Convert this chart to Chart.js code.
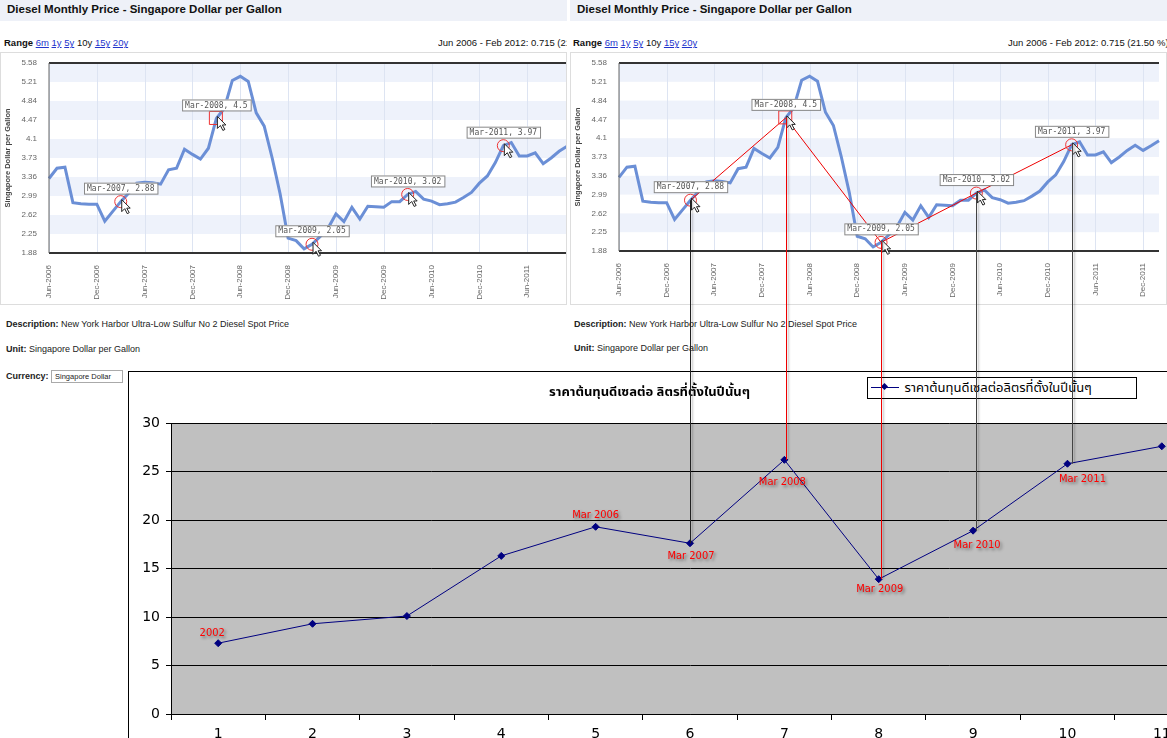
<!DOCTYPE html>
<html><head><meta charset="utf-8">
<script src="https://cdn.jsdelivr.net/npm/chart.js@4"></script>
<style>
body{margin:0;width:1167px;height:738px;overflow:hidden;background:#fff;font-family:"Liberation Sans",Arial,sans-serif;position:relative}
.abs{position:absolute}
.tbar{position:absolute;top:0;height:21px;background:#eef1f8;font-weight:bold;font-size:11.5px;line-height:18px;padding-left:7px;box-sizing:border-box;color:#111}
.rng{position:absolute;top:37px;font-size:9.5px;color:#111;white-space:nowrap}
.rng a{color:#2233cc;text-decoration:underline}
.info{position:absolute;font-size:9px;color:#222;white-space:nowrap}
</style></head><body>
<div class="tbar" style="left:0;width:567px">Diesel Monthly Price - Singapore Dollar per Gallon</div>
<div class="tbar" style="left:570px;width:597px">Diesel Monthly Price - Singapore Dollar per Gallon</div>
<div class="rng" style="left:4px"><b>Range</b> <a>6m</a> <a>1y</a> <a>5y</a> 10y <a>15y</a> <a>20y</a></div>
<div class="rng" style="left:438px;width:129px;overflow:hidden">Jun 2006 - Feb 2012: 0.715 (21.50 %)</div>
<div class="rng" style="left:573px"><b>Range</b> <a>6m</a> <a>1y</a> <a>5y</a> 10y <a>15y</a> <a>20y</a></div>
<div class="rng" style="left:1008px">Jun 2006 - Feb 2012: 0.715 (21.50 %)</div>
<div class="abs" style="left:0;top:52px;width:567px;height:253px;overflow:hidden;border:1px solid #ddd;box-sizing:border-box">
  <div style="position:absolute;left:0;top:0;width:597px;height:253px"><canvas id="p1"></canvas></div>
</div>
<div class="abs" style="left:570px;top:52px;width:597px;height:253px;border:1px solid #ddd;box-sizing:border-box"><canvas id="p2"></canvas></div>
<div class="info" style="left:6px;top:319px"><b>Description:</b> New York Harbor Ultra-Low Sulfur No 2 Diesel Spot Price</div>
<div class="info" style="left:6px;top:344px"><b>Unit:</b> Singapore Dollar per Gallon</div>
<div class="info" style="left:6px;top:370px"><b>Currency:</b> <span style="border:1px solid #aaa;font-size:7.5px;padding:1px 3px;display:inline-block;width:64px">Singapore Dollar</span></div>
<div class="info" style="left:574px;top:319px"><b>Description:</b> New York Harbor Ultra-Low Sulfur No 2 Diesel Spot Price</div>
<div class="info" style="left:574px;top:343px"><b>Unit:</b> Singapore Dollar per Gallon</div>
<div class="abs" style="left:128px;top:371px;width:1039px;height:367px;border-top:1px solid #000;border-left:1px solid #000;overflow:hidden">
  <div style="position:absolute;left:0;top:0;width:1090px;height:390px"><canvas id="b"></canvas></div>
  <div class="abs" style="left:420px;top:10px;font-family:'Noto Sans Thai','Noto Sans','DejaVu Sans',Tahoma,sans-serif;font-size:13px;font-weight:bold;color:#000">ราคาต้นทุนดีเซลต่อ ลิตรที่ตั้งในปีนั้นๆ</div>
  <div class="abs" style="left:738px;top:5px;width:268px;height:20px;border:1px solid #000;background:#fff;font-family:'Noto Sans Thai','Noto Sans','DejaVu Sans',Tahoma,sans-serif;font-size:13px;line-height:20px;white-space:nowrap">
    <span style="display:inline-block;position:relative;width:30px;height:10px;margin-left:3px"><span style="position:absolute;left:0;top:5px;width:28px;height:1px;background:#000080"></span><span style="position:absolute;left:11px;top:2px;width:5px;height:5px;background:#000080;transform:rotate(45deg)"></span></span> ราคาต้นทุนดีเซลต่อลิตรที่ตั้งในปีนั้นๆ</div>
</div>
<canvas id="ov" class="abs" width="1167" height="738" style="left:0;top:0;pointer-events:none"></canvas>
<script>
const months=[];
const mn=['Jan','Feb','Mar','Apr','May','Jun','Jul','Aug','Sep','Oct','Nov','Dec'];
for(let i=0;i<69;i++){const m=(5+i)%12, y=2006+Math.floor((5+i)/12);months.push(mn[m]+'-'+y);}
const priceSGD=[3.33,3.53,3.55,2.86,2.84,2.83,2.83,2.50,2.69,2.88,3.05,3.24,3.26,3.25,3.22,3.50,3.53,3.90,3.80,3.71,3.92,4.50,4.70,5.24,5.32,5.22,4.61,4.35,3.73,3.03,2.17,2.12,1.96,2.05,2.20,2.36,2.64,2.49,2.77,2.54,2.79,2.78,2.77,2.88,2.88,3.02,3.08,2.93,2.89,2.82,2.84,2.87,2.96,3.06,3.24,3.38,3.64,3.97,4.03,3.77,3.77,3.83,3.62,3.73,3.86,3.96,3.86,3.95,4.05];
const yTicksTop=[1.88,2.25,2.62,2.99,3.36,3.73,4.1,4.47,4.84,5.21,5.58];
const callouts=[{i:9,t:'Mar-2007, 2.88'},{i:21,t:'Mar-2008, 4.5'},{i:33,t:'Mar-2009, 2.05'},{i:45,t:'Mar-2010, 3.02'},{i:57,t:'Mar-2011, 3.97'}];
const years=['1','2','3','4','5','6','7','8','9','10','11'];
const costPerLitre=[7.3,9.3,10.1,16.3,19.3,17.6,26.2,13.9,18.9,25.8,27.6];
const pointLabels=['2002','','','','Mar 2006','Mar 2007','Mar 2008','Mar 2009','Mar 2010','Mar 2011',''];
const labelOffsets=[[-6,-10],0,0,0,[0,-12],[1,13],[-2,22],[1,10],[4,14],[15,15],0];

function arrow(ctx,x,y){ctx.save();ctx.beginPath();ctx.moveTo(x,y);ctx.lineTo(x,y+12);ctx.lineTo(x+3,y+9);ctx.lineTo(x+5.5,y+14);ctx.lineTo(x+7.5,y+13);ctx.lineTo(x+5,y+8.5);ctx.lineTo(x+8.5,y+8.5);ctx.closePath();ctx.fillStyle='#fff';ctx.fill();ctx.strokeStyle='#222';ctx.lineWidth=1;ctx.stroke();ctx.restore();}

function isHalf(l){return !!l&&(l.startsWith('Jun')||l.startsWith('Dec'));}
function panelPlugin(connect){return {id:'pp',
 beforeDraw(c){const {ctx,chartArea:a,scales:{x,y}}=c;ctx.save();
  for(let k=0;k<yTicksTop.length-1;k++){if(k%2==1){const t=y.getPixelForValue(yTicksTop[k+1]),b=y.getPixelForValue(yTicksTop[k]);ctx.fillStyle='#eef2fb';ctx.fillRect(a.left,t,a.right-a.left,b-t);}}
  ctx.strokeStyle='#dde4f2';ctx.lineWidth=1;ctx.beginPath();
  months.forEach((l,i)=>{if(isHalf(l)){const px=Math.round(x.getPixelForValue(i))+.5;ctx.moveTo(px,a.top);ctx.lineTo(px,a.bottom);}});ctx.stroke();
  ctx.restore();},
 afterDraw(c){const {ctx,chartArea:a,scales:{x,y}}=c;ctx.save();
  ctx.strokeStyle='#333';ctx.lineWidth=2;ctx.beginPath();ctx.moveTo(a.left,a.top);ctx.lineTo(a.right,a.top);ctx.moveTo(a.left,a.bottom);ctx.lineTo(a.right,a.bottom);ctx.stroke();
  ctx.strokeStyle='#666';ctx.lineWidth=1;ctx.beginPath();ctx.moveTo(a.left,a.top);ctx.lineTo(a.left,a.bottom);ctx.stroke();
  if(connect){ctx.strokeStyle='#e00';ctx.lineWidth=1;ctx.beginPath();callouts.forEach((o,j)=>{const px=x.getPixelForValue(o.i),py=y.getPixelForValue(priceSGD[o.i]);j?ctx.lineTo(px,py):ctx.moveTo(px,py);});ctx.stroke();}
  callouts.forEach((o,j)=>{const px=x.getPixelForValue(o.i),py=y.getPixelForValue(priceSGD[o.i]);
   ctx.strokeStyle='#e33';ctx.lineWidth=1;ctx.beginPath();if(j==1)ctx.rect(px-7,py-7,13,13);else ctx.arc(px,py,6,0,Math.PI*2);ctx.stroke();
   ctx.font='8px "DejaVu Sans Mono",monospace';const w=ctx.measureText(o.t).width+6;
   ctx.fillStyle='#fff';ctx.fillRect(px-w/2,py-19,w,11);ctx.strokeStyle='#888';ctx.strokeRect(px-w/2+.5,py-18.5,w,11);
   ctx.fillStyle='#555';ctx.textBaseline='middle';ctx.textAlign='center';ctx.fillText(o.t,px,py-13);
   arrow(ctx,px+1,py-2);});
  ctx.restore();}};}

function makePanel(id,connect){return new Chart(document.getElementById(id),{type:'line',
 data:{labels:months,datasets:[{data:priceSGD,borderColor:'#6b8fd6',borderWidth:3,pointRadius:0,tension:0}]},
 options:{responsive:true,maintainAspectRatio:false,animation:false,layout:{padding:{top:10,right:7,left:0,bottom:0}},
  plugins:{legend:{display:false},tooltip:{enabled:false}},
  scales:{x:{grid:{display:false},border:{display:false},
    ticks:{autoSkip:false,maxRotation:90,minRotation:90,padding:4,font:{size:8},color:'#666',callback:(v,i)=>isHalf(months[i])?months[i]:null},afterFit:s=>{s.height=53;}},
   y:{min:1.88,max:5.58,afterBuildTicks:s=>{s.ticks=yTicksTop.map(v=>({value:v}));},grid:{display:false},border:{display:false},
    ticks:{font:{size:8},color:'#666',padding:4,callback:v=>String(+v.toFixed(2))},
    title:{display:true,text:'Singapore Dollar per Gallon',font:{size:7.5,weight:'bold'},color:'#444',padding:2},afterFit:s=>{s.width=48;}}}},
 plugins:[panelPlugin(connect)]});}
const p1=makePanel('p1',false), p2=makePanel('p2',true);

const bch=new Chart(document.getElementById('b'),{type:'line',
 data:{labels:years,datasets:[{label:'ราคาต้นทุนดีเซลต่อลิตรที่ตั้งในปีนั้นๆ',data:costPerLitre,borderColor:'#000080',backgroundColor:'#000080',borderWidth:1,pointStyle:'rectRot',pointRadius:3.5,tension:0}]},
 options:{responsive:true,maintainAspectRatio:false,animation:false,layout:{padding:{top:51,right:10,left:0,bottom:0}},
  plugins:{legend:{display:false},tooltip:{enabled:false}},
  scales:{x:{offset:true,grid:{offset:true,drawOnChartArea:false,color:'#000',tickLength:6},border:{color:'#000'},ticks:{font:{family:'"DejaVu Sans",Tahoma,sans-serif',size:14},color:'#000',padding:6},afterFit:s=>{s.height=48;}},
   y:{min:0,max:30,ticks:{stepSize:5,font:{family:'"DejaVu Sans",Tahoma,sans-serif',size:14},color:'#000',padding:6},grid:{color:'#000',lineWidth:1,drawTicks:true,tickLength:5},border:{color:'#000'},afterFit:s=>{s.width=42;}}}},
 plugins:[{id:'bg',beforeDraw(c){const {ctx,chartArea:a}=c;ctx.save();ctx.fillStyle='#c0c0c0';ctx.fillRect(a.left,a.top,a.right-a.left,a.bottom-a.top);ctx.restore();},
  afterDatasetsDraw(c){const {ctx}=c;const m=c.getDatasetMeta(0);ctx.save();ctx.font='11px "DejaVu Sans Condensed","DejaVu Sans",sans-serif';ctx.textAlign='center';ctx.textBaseline='middle';
   ctx.shadowColor='rgba(0,0,0,0.45)';ctx.shadowBlur=3;ctx.shadowOffsetX=2;ctx.shadowOffsetY=2;ctx.fillStyle='#ff0000';
   pointLabels.forEach((t,i)=>{if(!t)return;const p=m.data[i],o=labelOffsets[i];ctx.fillText(t,p.x+o[0],p.y+o[1]);});ctx.restore();}}]});

function overlay(){const ctx=document.getElementById('ov').getContext('2d');
 const r2=document.getElementById('p2').getBoundingClientRect(),rb=document.getElementById('b').getBoundingClientRect();
 const m=bch.getDatasetMeta(0);const cols=['#222','#e00','#e00','#444','#444'];
 callouts.forEach((o,j)=>{const tx=r2.left+p2.scales.x.getPixelForValue(o.i),ty=r2.top+p2.scales.y.getPixelForValue(priceSGD[o.i]);
  const p=m.data[j+5];const by=rb.top+p.y;
  ctx.save();ctx.shadowColor='rgba(0,0,0,0.3)';ctx.shadowBlur=2;ctx.shadowOffsetX=2;ctx.strokeStyle=cols[j];ctx.lineWidth=1;
  ctx.beginPath();ctx.moveTo(Math.round(tx)+.5,ty);ctx.lineTo(Math.round(tx)+.5,by);ctx.stroke();ctx.restore();});}
overlay();
</script></body></html>
